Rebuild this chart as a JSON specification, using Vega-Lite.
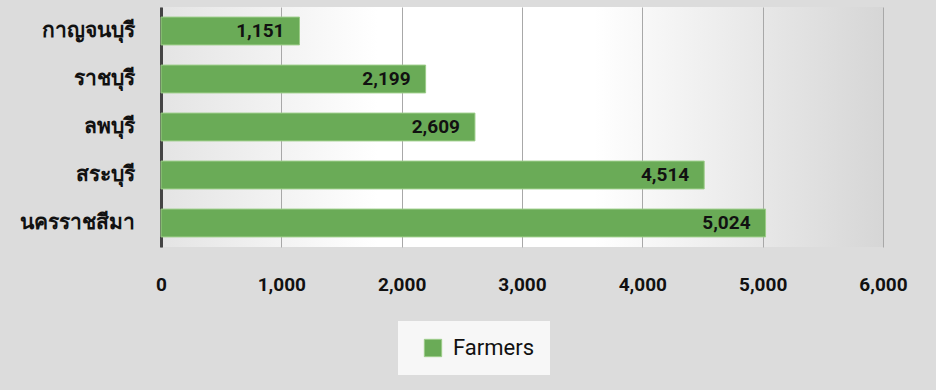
{
  "$schema": "https://vega.github.io/schema/vega-lite/v6.json",
  "width": 722,
  "height": 240,
  "autosize": {"type": "none"},
  "padding": {"left": 161, "top": 7, "right": 53, "bottom": 143},
  "background": "#dcdcdc",
  "config": {
    "view": {
      "stroke": null,
      "fill": {
        "gradient": "linear",
        "x1": 0, "y1": 0.5, "x2": 1, "y2": 0.5,
        "stops": [
          {"offset": 0, "color": "#e4e4e4"},
          {"offset": 0.3, "color": "#ffffff"},
          {"offset": 0.6, "color": "#ffffff"},
          {"offset": 1, "color": "#d6d6d6"}
        ]
      }
    }
  },
  "data": {
    "values": [
      {"province": "กาญจนบุรี", "series": "Farmers", "farmers": 1151},
      {"province": "ราชบุรี", "series": "Farmers", "farmers": 2199},
      {"province": "ลพบุรี", "series": "Farmers", "farmers": 2609},
      {"province": "สระบุรี", "series": "Farmers", "farmers": 4514},
      {"province": "นครราชสีมา", "series": "Farmers", "farmers": 5024}
    ]
  },
  "encoding": {
    "y": {
      "field": "province",
      "type": "nominal",
      "sort": {"field": "farmers", "order": "ascending"},
      "title": null,
      "scale": {"paddingInner": 0.42, "paddingOuter": 0.21},
      "axis": {
        "domainColor": "#444444",
        "domainWidth": 3,
        "ticks": false,
        "labelPadding": 27,
        "labelFont": "Noto Sans",
        "labelFontSize": 21,
        "labelFontWeight": "bold",
        "labelColor": "#111111",
        "grid": false
      }
    },
    "x": {
      "field": "farmers",
      "type": "quantitative",
      "title": null,
      "scale": {"domain": [0, 6000], "nice": false},
      "axis": {
        "values": [0, 1000, 2000, 3000, 4000, 5000, 6000],
        "format": ",d",
        "domain": false,
        "ticks": false,
        "grid": true,
        "gridColor": "#a8a8a8",
        "gridWidth": 1,
        "labelPadding": 28,
        "labelFont": "Roboto",
        "labelFontSize": 19,
        "labelFontWeight": "bold",
        "labelColor": "#111111",
        "labelFlush": false
      }
    }
  },
  "layer": [
    {
      "mark": {"type": "bar", "stroke": "#9ccc88", "strokeWidth": 1},
      "encoding": {
        "color": {
          "field": "series",
          "type": "nominal",
          "title": null,
          "scale": {"range": ["#6aab57"]},
          "legend": {
            "orient": "none",
            "legendX": 237,
            "legendY": 314,
            "direction": "horizontal",
            "fillColor": "#f7f7f7",
            "padding": 16,
            "symbolType": "square",
            "symbolSize": 300,
            "symbolOffset": 8,
            "symbolStrokeColor": "#9ccc88",
            "symbolStrokeWidth": 1,
            "labelFont": "Roboto",
            "labelFontSize": 22,
            "labelColor": "#111111",
            "labelOffset": 9
          }
        }
      }
    },
    {
      "mark": {
        "type": "text",
        "align": "right",
        "baseline": "middle",
        "dx": -15,
        "font": "Roboto",
        "fontSize": 19,
        "fontWeight": "bold",
        "color": "#111111"
      },
      "encoding": {
        "text": {"field": "farmers", "type": "quantitative", "format": ",d"}
      }
    }
  ]
}
